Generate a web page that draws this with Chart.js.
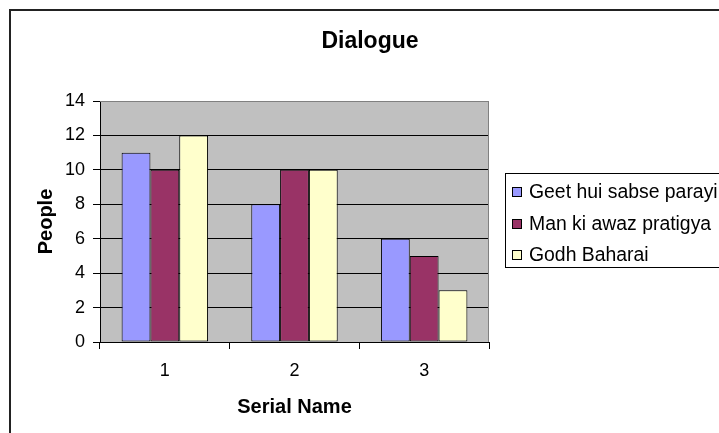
<!DOCTYPE html>
<html>
<head>
<meta charset="utf-8">
<title>Dialogue</title>
<script src="https://cdn.jsdelivr.net/npm/chart.js@4.4.1/dist/chart.umd.min.js"></script>
<style>
  html, body { margin: 0; padding: 0; background: #ffffff; }
  canvas { display: block; }
</style>
</head>
<body>
<canvas id="chart" width="719" height="433"></canvas>
<script>
// Serial numbers along the x axis
const categories = ['1', '2', '3'];

// People counted per serial, one array per show
const geetHuiSabseParayi = [11, 8, 6];
const manKiAwazPratigya = [10, 10, 5];
const godhBaharai = [12, 10, 3];

const seriesNames = ['Geet hui sabse parayi', 'Man ki awaz pratigya', 'Godh Baharai'];
const seriesColors = ['#9999FF', '#993366', '#FFFFCC'];

// Value axis ticks
const yTicks = [0, 2, 4, 6, 8, 10, 12, 14];

const FONT = '"Liberation Sans", Arial, Helvetica, sans-serif';

// Outer frame, grey plot area and its border
const framePlugin = {
  id: 'frame',
  beforeDraw(chart) {
    const ctx = chart.ctx;
    const a = chart.chartArea;
    ctx.save();
    ctx.fillStyle = '#ffffff';
    ctx.fillRect(0, 0, chart.width, chart.height);
    ctx.strokeStyle = '#222222';
    ctx.lineWidth = 2;
    ctx.strokeRect(10, 10, chart.width + 20, chart.height + 20);
    ctx.fillStyle = '#C0C0C0';
    ctx.fillRect(a.left, a.top, a.right - a.left, a.bottom - a.top);
    ctx.restore();
  },
  beforeDatasetsDraw(chart) {
    const ctx = chart.ctx;
    const a = chart.chartArea;
    ctx.save();
    ctx.strokeStyle = '#808080';
    ctx.lineWidth = 1;
    ctx.beginPath();
    ctx.moveTo(a.left, a.top + 0.5);
    ctx.lineTo(a.right - 0.5, a.top + 0.5);
    ctx.lineTo(a.right - 0.5, a.bottom);
    ctx.stroke();
    ctx.restore();
  }
};

// Chart title, axis titles and the boxed legend on the right
const labelsPlugin = {
  id: 'labels',
  afterDraw(chart) {
    const ctx = chart.ctx;
    const a = chart.chartArea;
    ctx.save();
    ctx.fillStyle = '#000000';
    ctx.textAlign = 'center';
    ctx.textBaseline = 'alphabetic';

    ctx.font = 'bold 23px ' + FONT;
    ctx.fillText('Dialogue', 370, 48);

    ctx.font = 'bold 20px ' + FONT;
    ctx.fillText('Serial Name', (a.left + a.right) / 2, 413);

    ctx.save();
    ctx.translate(52, (a.top + a.bottom) / 2);
    ctx.rotate(-Math.PI / 2);
    ctx.fillText('People', 0, 0);
    ctx.restore();

    // legend
    const lx = 505, ly = 173, lh = 94;
    ctx.fillStyle = '#ffffff';
    ctx.fillRect(lx, ly, chart.width - lx + 10, lh);
    ctx.strokeStyle = '#000000';
    ctx.lineWidth = 1;
    ctx.strokeRect(lx + 0.5, ly + 0.5, chart.width - lx + 10, lh);

    ctx.font = '19.4px ' + FONT;
    ctx.textAlign = 'left';
    ctx.textBaseline = 'middle';
    chart.data.datasets.forEach((ds, i) => {
      const cy = 192 + i * 31.5;
      ctx.fillStyle = ds.backgroundColor;
      ctx.fillRect(512, Math.round(cy) - 5, 10, 10);
      ctx.strokeStyle = '#000000';
      ctx.strokeRect(512.5, Math.round(cy) - 4.5, 9, 9);
      ctx.fillStyle = '#000000';
      ctx.fillText(ds.label, 529, cy + 1);
    });
    ctx.restore();
  }
};

new Chart(document.getElementById('chart'), {
  type: 'bar',
  data: {
    labels: categories,
    datasets: [
      { label: seriesNames[0], data: geetHuiSabseParayi, backgroundColor: seriesColors[0] },
      { label: seriesNames[1], data: manKiAwazPratigya, backgroundColor: seriesColors[1] },
      { label: seriesNames[2], data: godhBaharai, backgroundColor: seriesColors[2] }
    ]
  },
  options: {
    responsive: false,
    animation: false,
    devicePixelRatio: 1,
    layout: { padding: { left: 0, top: 101, right: 230, bottom: 0 } },
    datasets: {
      bar: {
        borderColor: '#000000',
        borderWidth: 1,
        borderSkipped: false,
        categoryPercentage: 3 / 4.5,
        barPercentage: 1.0
      }
    },
    plugins: {
      legend: { display: false },
      title: { display: false },
      tooltip: { enabled: false }
    },
    scales: {
      x: {
        offset: true,
        grid: {
          offset: true,
          drawOnChartArea: false,
          drawTicks: true,
          tickLength: 7,
          color: '#000000'
        },
        border: { color: '#000000', width: 1 },
        ticks: {
          color: '#000000',
          font: { family: FONT, size: 18 },
          padding: 11
        },
        afterFit(scale) { scale.height = 91; }
      },
      y: {
        min: 0,
        max: 14,
        afterBuildTicks(scale) { scale.ticks = yTicks.map(v => ({ value: v })); },
        grid: {
          color: ctx => (ctx.tick && ctx.tick.value === 14 ? '#808080' : '#000000'),
          tickColor: '#000000',
          tickLength: 7,
          lineWidth: 1
        },
        border: { color: '#000000', width: 1 },
        ticks: {
          color: '#000000',
          font: { family: FONT, size: 18 },
          padding: 8
        },
        afterFit(scale) { scale.width = 100; }
      }
    }
  },
  plugins: [framePlugin, labelsPlugin]
});
</script>
</body>
</html>
